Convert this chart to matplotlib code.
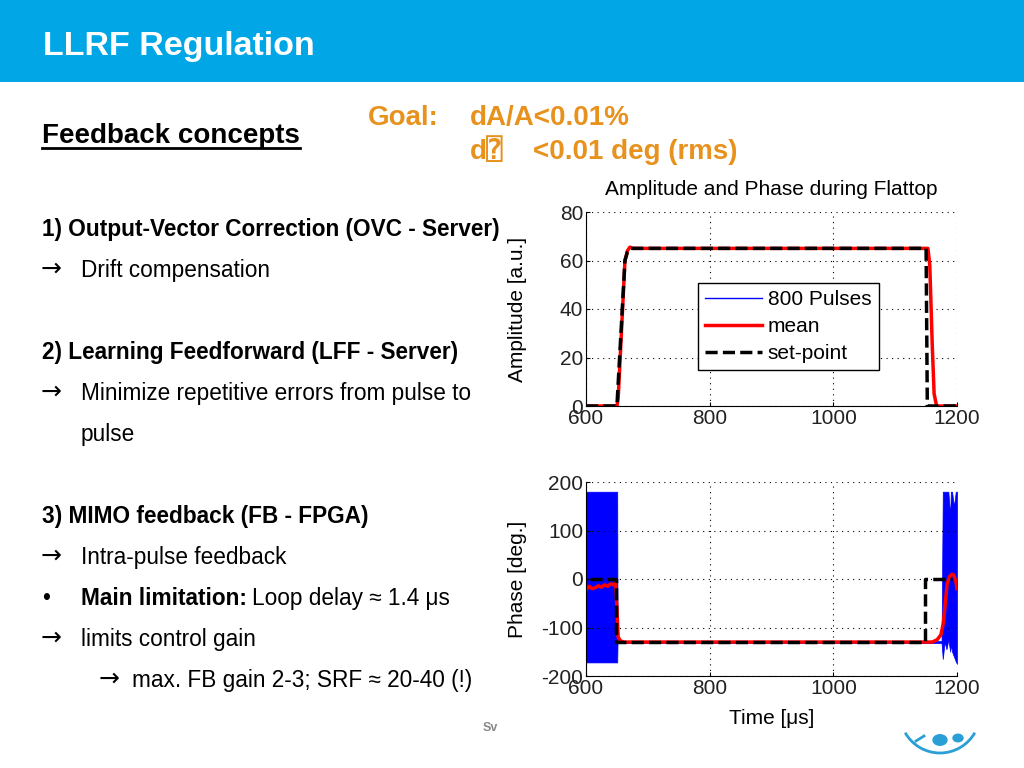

# slide "LLRF Regulation": text column on the left, amplitude/phase plots on the right

import matplotlib
matplotlib.use('Agg')
import matplotlib.pyplot as plt
from matplotlib.patches import Rectangle, Arc, Circle
from matplotlib.lines import Line2D

# ---- data ----
# amplitude (top plot)
amp_t_setpoint = [600, 650, 663, 667, 672, 1150, 1152, 1200]
amp_setpoint = [0, 0, 60, 63.5, 65, 65, 0, 0]
amp_t_mean = [600, 650, 652, 663, 667, 671, 676, 1153, 1156, 1160, 1163, 1167, 1200]
amp_mean = [0, 0, 3, 60, 64, 65.5, 65, 65, 58, 25, 5, 0, 0]

# phase (bottom plot)
ph_t_setpoint = [607, 648, 648, 1148, 1148, 1192]
ph_setpoint = [0, 0, -130, -130, 0, 0]
ph_t_mean = [600, 605, 610, 615, 620, 625, 630, 635, 640, 645, 648, 650, 652, 656, 662,
             1160, 1168, 1174, 1178, 1181, 1184, 1188, 1192, 1195, 1198, 1200]
ph_mean = [-22, -15, -20, -18, -14, -17, -12, -15, -10, -12, -8, -60, -120, -128, -130,
           -130, -125, -115, -90, -50, -10, 5, 10, 8, -5, -20]
# envelope of the 800 single pulses
ph_t_band = [600, 650.5, 651, 1175, 1177, 1180, 1183, 1186, 1189, 1190, 1192, 1195, 1198, 1200]
ph_band_hi = [180, 180, -128, -128, 180, 180, 180, 180, 130, 180, 180, 150, 180, 180]
ph_band_lo = [-172, -172, -132, -132, -165, -130, -145, -125, -150, -135, -150, -160, -170, -175]

x_ticks = [600, 800, 1000, 1200]
amp_ticks = [0, 20, 40, 60, 80]
ph_ticks = [-200, -100, 0, 100, 200]

legend_labels = ['800 Pulses', 'mean', 'set-point']

# text of the slide
header = 'LLRF Regulation'
subtitle = 'Feedback concepts'
left_lines = [
    # (x px, baseline px, text, bold)
    (42, 236, '1) Output-Vector Correction (OVC - Server)', True),
    (81, 277, 'Drift compensation', False),
    (42, 359, '2) Learning Feedforward (LFF - Server)', True),
    (81, 400, 'Minimize repetitive errors from pulse to', False),
    (81, 441, 'pulse', False),
    (42, 523, '3) MIMO feedback (FB - FPGA)', True),
    (81, 564, 'Intra-pulse feedback', False),
    (81, 646, 'limits control gain', False),
    (132, 687, 'max. FB gain 2-3; SRF \u2248 20-40 (!)', False),
]
arrows = [(42, 277), (42, 400), (42, 564), (42, 646), (100, 687)]

W, H = 1024, 768
FAMILY = ['Liberation Sans', 'DejaVu Sans', 'DejaVu Sans Mono']
plt.rcParams['font.family'] = FAMILY
plt.rcParams['axes.unicode_minus'] = False
fig = plt.figure(figsize=(W / 100, H / 100), dpi=100)


def fx(px):
    return px / W


def fy(py):
    return 1 - py / H


# header bar
fig.patches.append(Rectangle((0, fy(82)), 1, 82 / H, transform=fig.transFigure,
                             facecolor='#00A6E6', edgecolor='none'))
fig.text(fx(43), fy(55), header, color='white', fontsize=24.5, fontweight='bold')

# subtitle with underline
sub = fig.text(fx(42), fy(143), subtitle, fontsize=20, fontweight='bold')
renderer = fig.canvas.get_renderer()
bb = sub.get_window_extent(renderer)
fig.add_artist(Line2D([fx(42), bb.x1 / W], [fy(148), fy(148)], color='black', lw=2))

# goal
orange = '#E8921E'
fig.text(fx(368), fy(125), 'Goal:', color=orange, fontsize=20, fontweight='bold')
fig.text(fx(470), fy(125), 'dA/A<0.01%', color=orange, fontsize=20, fontweight='bold')
fig.text(fx(470), fy(159), 'd\u2370', color=orange, fontsize=20, fontweight='bold')
fig.text(fx(533), fy(159), '<0.01 deg (rms)', color=orange, fontsize=20, fontweight='bold')

for x, y, s, bold in left_lines:
    fig.text(fx(x), fy(y), s, fontsize=16.3, fontweight='bold' if bold else 'normal')
for x, y in arrows:
    fig.text(fx(x - 1), fy(y - 1), '\u2192', fontsize=18, family=['DejaVu Sans'])

# bullet line with bold start
fig.text(fx(42), fy(605), '\u2022', fontsize=16.3)
b = fig.text(fx(81), fy(605), 'Main limitation:', fontsize=16.3, fontweight='bold')
bb = b.get_window_extent(renderer)
fig.text(bb.x1 / W + fx(5), fy(605), 'Loop delay \u2248 1.4 \u03bcs', fontsize=16.3)

# footer bits
fig.text(fx(483), fy(731), 'Sv', fontsize=9, color='#888888', fontweight='bold')
logo_blue = '#2A9FD6'
fig.add_artist(Arc((fx(940), fy(713)), 80 / W, 80 / H, theta1=217, theta2=323,
                   transform=fig.transFigure, color=logo_blue, lw=2))
fig.add_artist(Circle((fx(940), fy(740)), 7 / W, transform=fig.transFigure,
                      color=logo_blue))
fig.add_artist(Circle((fx(958), fy(738)), 5 / W, transform=fig.transFigure,
                      color=logo_blue))
fig.add_artist(Line2D([fx(916), fx(924)], [fy(741), fy(736)], color=logo_blue, lw=2))

# ---- plots ----
ax1 = fig.add_axes([fx(586), fy(406), 371 / W, 194 / H])
ax2 = fig.add_axes([fx(586), fy(676), 371 / W, 194 / H])

blue = '#0000FF'
red = '#FF0000'
dash = (0, (3.5, 1.5))

ax1.plot(amp_t_mean, amp_mean, color=blue, lw=1)
ax1.plot(amp_t_mean, amp_mean, color=red, lw=2.5)
ax1.plot(amp_t_setpoint, amp_setpoint, color='black', lw=2.5, linestyle=dash)
ax1.set_ylim(0, 80)
ax1.set_yticks(amp_ticks)
ax1.set_ylabel('Amplitude [a.u.]', fontsize=15, labelpad=24)
ax1.set_title('Amplitude and Phase during Flattop', fontsize=15, pad=12)

ax2.fill_between(ph_t_band, ph_band_lo, ph_band_hi, color=blue, lw=0.5)
ax2.plot(ph_t_mean, ph_mean, color=red, lw=2.5)
ax2.plot(ph_t_setpoint, ph_setpoint, color='black', lw=2.5, linestyle=dash)
ax2.set_ylim(-200, 200)
ax2.set_yticks(ph_ticks)
ax2.set_ylabel('Phase [deg.]', fontsize=15, labelpad=10)
ax2.set_xlabel('Time [\u03bcs]', fontsize=15, labelpad=8)

for ax in (ax1, ax2):
    ax.set_xlim(600, 1200)
    ax.set_xticks(x_ticks)
    ax.grid(True, color='black', linestyle=(0, (1, 4)), lw=0.8)
    ax.spines['top'].set_visible(False)
    ax.spines['right'].set_visible(False)
    ax.tick_params(direction='in', length=3, labelsize=15, pad=2, color='black')
    for t in ax.get_xticklabels() + ax.get_yticklabels():
        t.set_color('#222222')

handles = [Line2D([], [], color=blue, lw=1),
           Line2D([], [], color=red, lw=2.5),
           Line2D([], [], color='black', lw=2.5, linestyle=dash)]
leg = ax1.legend(handles, legend_labels, loc='upper left', bbox_to_anchor=(0.302, 0.634),
                 fontsize=15, frameon=True, fancybox=False, framealpha=1,
                 edgecolor='black', handlelength=2.7, handletextpad=0.3,
                 borderpad=0.35, labelspacing=0.38, borderaxespad=0)
leg.get_frame().set_linewidth(1)

fig.savefig('out.png', dpi=100)
